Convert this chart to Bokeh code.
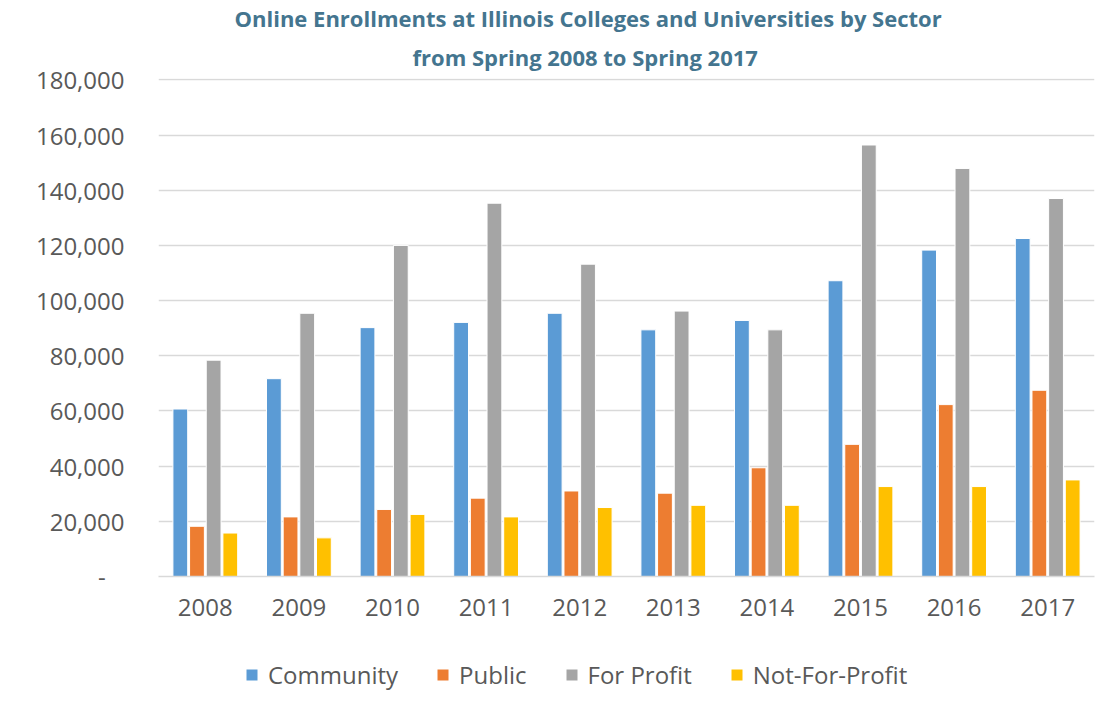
from bokeh.plotting import figure
from bokeh.layouts import column
from bokeh.models import (FactorRange, Range1d, Title, Legend, LegendItem,
                          FixedTicker, ColumnDataSource)
from bokeh.transform import dodge
from bokeh.embed import file_html
from bokeh.resources import INLINE

# ---------------- data ----------------
years = ["2008", "2009", "2010", "2011", "2012", "2013", "2014", "2015", "2016", "2017"]
community = [60700, 71700, 90200, 92100, 95400, 89400, 92800, 107200, 118300, 122500]
public = [18200, 21600, 24300, 28400, 31000, 30200, 39400, 47900, 62300, 67500]
for_profit = [78400, 95400, 120000, 135300, 113200, 96200, 89400, 156400, 147900, 137000]
not_for_profit = [15750, 14000, 22500, 21600, 25000, 25800, 25800, 32600, 32600, 35000]
series_names = ["Community", "Public", "For Profit", "Not-For-Profit"]
y_ticks = [0, 20000, 40000, 60000, 80000, 100000, 120000, 140000, 160000, 180000]
y_tick_labels = ["-\u00a0\u00a0\u00a0", "20,000", "40,000", "60,000", "80,000", "100,000",
                 "120,000", "140,000", "160,000", "180,000"]
title_lines = ["Online Enrollments at Illinois Colleges and Universities by Sector",
               "from Spring 2008 to Spring 2017"]

# ---------------- style ----------------
colors = ["#5B9BD5", "#ED7D31", "#A5A5A5", "#FFC000"]
text_color = "#595959"
grid_color = "#D9D9D9"
title_color = "#44758F"
FONT = "Open Sans"

W = 1115
H_MAIN, H_LEG = 640, 75
LEFT, RIGHT, TOP, BOTTOM = 158, 21, 78, 64

src = ColumnDataSource(dict(year=years, community=community, public=public,
                            for_profit=for_profit, not_for_profit=not_for_profit))
fields = ["community", "public", "for_profit", "not_for_profit"]
pitch = 0.178
offsets = [-1.5 * pitch, -0.5 * pitch, 0.5 * pitch, 1.5 * pitch]

p = figure(x_range=FactorRange(*years), y_range=Range1d(0, 180500),
           width=W, height=H_MAIN, output_backend="svg", toolbar_location=None,
           title=None, min_border_left=LEFT, min_border_right=RIGHT,
           min_border_top=TOP, min_border_bottom=BOTTOM)
p.outline_line_color = None
p.background_fill_color = "white"
p.border_fill_color = "white"

# axes
p.yaxis.ticker = FixedTicker(ticks=y_ticks)
p.yaxis.major_label_overrides = {t: l for t, l in zip(y_ticks, y_tick_labels)}
p.yaxis.axis_line_color = None
p.yaxis.major_tick_line_color = None
p.yaxis.minor_tick_line_color = None
p.yaxis.major_label_standoff = 28
p.yaxis.major_label_text_font = FONT
p.yaxis.major_label_text_font_size = "24px"
p.yaxis.major_label_text_color = text_color

p.xaxis.axis_line_color = grid_color
p.xaxis.axis_line_width = 1.5
p.xaxis.major_tick_line_color = None
p.xaxis.minor_tick_line_color = None
p.xaxis.major_label_standoff = 16
p.xaxis.major_label_text_font = FONT
p.xaxis.major_label_text_font_size = "24px"
p.xaxis.major_label_text_color = text_color

p.xgrid.grid_line_color = None
p.ygrid.ticker = FixedTicker(ticks=y_ticks)
p.ygrid.grid_line_color = grid_color
p.ygrid.grid_line_width = 1.5

for f, off, c in zip(fields, offsets, colors):
    p.vbar(x=dodge("year", off, range=p.x_range), top=f, width=0.158,
           source=src, fill_color=c, line_color="white", line_width=1)

# two-line title: inner line added first, outer line second
p.add_layout(Title(text=title_lines[1], align="left", offset=254, standoff=14,
                   text_font=FONT, text_font_size="22px", text_font_style="bold",
                   text_color=title_color), "above")
p.add_layout(Title(text=title_lines[0], align="left", offset=76, standoff=0,
                   text_font=FONT, text_font_size="22px", text_font_style="bold",
                   text_color=title_color), "above")

# ---------------- legend strip (separate figure below the chart) ----------------
# The column aligns the frames, so the legend's x is measured from x=158.
# Its y-range lies far above the data so its bars stay out of view.
lg = figure(x_range=FactorRange(*years), y_range=Range1d(1e6, 1e6 + 1),
            width=W, height=H_LEG, output_backend="svg", toolbar_location=None,
            title=None, x_axis_location=None, y_axis_location=None,
            min_border_left=0, min_border_right=0, min_border_top=0, min_border_bottom=0)
lg.outline_line_color = None
lg.grid.grid_line_color = None
lg.background_fill_color = "white"
lg.border_fill_color = "white"
leg_renderers = []
for f, off, c in zip(fields, offsets, colors):
    r = lg.vbar(x=dodge("year", off, range=lg.x_range), top=f, width=0.158,
                source=src, fill_color=c, line_color="white", line_width=1)
    leg_renderers.append(r)

legend = Legend(items=[LegendItem(label=n, renderers=[r]) for n, r in zip(series_names, leg_renderers)],
                orientation="horizontal", location=(86, 24),
                border_line_color=None, background_fill_alpha=0,
                padding=0, margin=0, glyph_width=15, glyph_height=15,
                label_standoff=9, spacing=37,
                label_text_font=FONT, label_text_font_size="24px",
                label_text_color=text_color)
lg.add_layout(legend)

layout = column(p, lg, spacing=0)
open("out.html", "w").write(file_html(layout, INLINE))
